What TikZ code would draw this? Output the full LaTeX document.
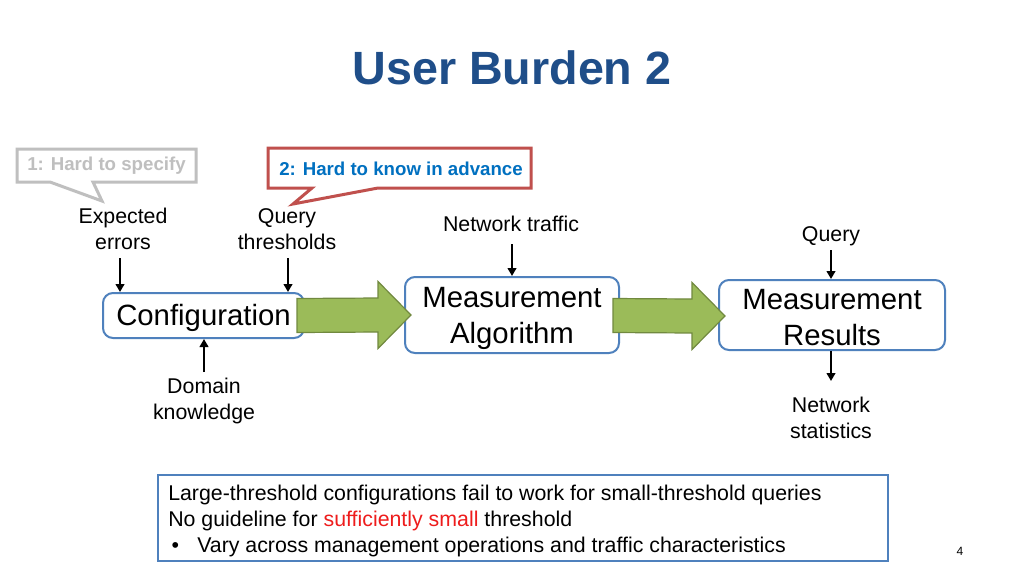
\documentclass[tikz,border=0pt]{standalone}
\usepackage{fontspec}
\setmainfont{Liberation Sans}
\usetikzlibrary{arrows.meta,calc}
\definecolor{titleblue}{HTML}{1F4E89}
\definecolor{boxblue}{HTML}{4F81BD}
\definecolor{callred}{HTML}{C0504D}
\definecolor{callgray}{HTML}{BFBFBF}
\definecolor{textblue}{HTML}{0070C0}
\definecolor{arrgreen}{HTML}{9BBB59}
\definecolor{arrgreenb}{HTML}{71893F}
\definecolor{hired}{HTML}{EE1C1C}
\tikzset{
  procbox/.style={draw=boxblue, line width=1.5pt, rounded corners=7.5pt, fill=white, inner sep=0pt},
  proctext/.style={align=center, inner sep=0pt, font=\fontsize{22}{27}\selectfont},
  lbl/.style={align=center, inner sep=0pt, font=\fontsize{16}{19.5}\selectfont},
  arr/.style={line width=1.8pt, -{Triangle[width=6.5pt,length=6pt]}},
  garrow/.style={fill=arrgreen, draw=arrgreenb, line width=0.9pt, line join=miter},
  callout/.style={fill=white, line width=2.25pt, line join=miter},
  calltext/.style={inner sep=0pt, font=\fontsize{14}{17}\selectfont\bfseries},
}
\newcommand\blockarr[2]{%
  \draw[garrow] ($(#1)+(0,-17)$) -- ($(#2)+(-33,-17)$) -- ($(#2)+(-33,-33.5)$) -- (#2)
    -- ($(#2)+(-33,33.5)$) -- ($(#2)+(-33,17)$) -- ($(#1)+(0,17)$) -- cycle;}
\begin{document}
\begin{tikzpicture}[x=0.75pt, y=-0.75pt]
\useasboundingbox[fill=white] (0,0) rectangle (1024,576);

% title
\node[text=titleblue, font=\fontsize{35}{40}\selectfont\bfseries, inner sep=0pt] (title) at (512,68) {User Burden 2};

% callouts
\draw[callout, draw=callgray] (17,149) -- (196,149) -- (196,182) -- (93,182) -- (102,201) -- (50,182) -- (17,182) -- cycle;
\node[calltext, text=callgray] (c1) at (106.5,166) {1: Hard to specify};
\draw[callout, draw=callred] (268,148) -- (531,148) -- (531,188) -- (378,188) -- (293,204) -- (312,188) -- (268,188) -- cycle;
\node[calltext, text=textblue] (c2) at (401,168.5) {2: Hard to know in advance};

% labels
\node[lbl] (expected) at (123,229) {Expected\\errors};
\node[lbl] (qthr) at (287,229) {Query\\thresholds};
\node[lbl] (traffic) at (511,224) {Network traffic};
\node[lbl] (query) at (831,236.5) {Query};
\node[lbl] (domain) at (204,401) {Domain\\knowledge};
\node[lbl] (stats) at (831,418) {Network\\statistics};

% boxes
\node[procbox, minimum width=150.75pt, minimum height=33.75pt] (cfg) at (203.5,315.5) {};
\node[proctext] (cfgt) at ($(cfg.center)+(0,2.5)$) {Configuration};
\node[procbox, minimum width=160.5pt, minimum height=57pt] (alg) at (512,315) {};
\node[proctext] (algt) at ($(alg.center)+(0,3)$) {Measurement\\Algorithm};
\node[procbox, minimum width=169.5pt, minimum height=52.5pt] (res) at (832,315) {};
\node[proctext] (rest) at ($(res.center)+(0,2.5)$) {Measurement\\Results};

% thin arrows
\coordinate (e1) at (120,258);
\coordinate (e2) at (288,258);
\coordinate (e3) at (204,372);
\coordinate (e4) at (512,244);
\coordinate (e5) at (831,250);
\coordinate (e6) at (831,381);
\draw[arr] (e1) -- (e1 |- cfg.north);
\draw[arr] (e2) -- (e2 |- cfg.north);
\draw[arr] (e3) -- (e3 |- cfg.south);
\draw[arr] (e4) -- (e4 |- alg.north);
\draw[arr] (e5) -- (e5 |- res.north);
\draw[arr] (e6 |- res.south) -- (e6);

% block arrows
\blockarr{$(cfg.east)+(-8,0)$}{$(alg.west)+(7,0)$}
\blockarr{$(alg.east)+(-7,0.5)$}{$(res.west)+(7,1)$}

% bottom box
\node[draw=boxblue, line width=1.6pt, minimum width=547.5pt, minimum height=64.5pt, inner sep=0pt] (note) at (523,518) {};
\node[anchor=west, align=left, inner sep=0pt, font=\fontsize{16}{19.5}\selectfont] (notetext) at (168,521)
  {Large-threshold configurations fail to work for small-threshold queries\\
   No guideline for \textcolor{hired}{sufficiently small} threshold\\
   \makebox[21.75pt][l]{\hspace{2.5pt}•}Vary across management operations and traffic characteristics};

% page number
\node[inner sep=0pt, font=\fontsize{9}{11}\selectfont] (pg) at (960,551) {4};
\end{tikzpicture}
\end{document}
